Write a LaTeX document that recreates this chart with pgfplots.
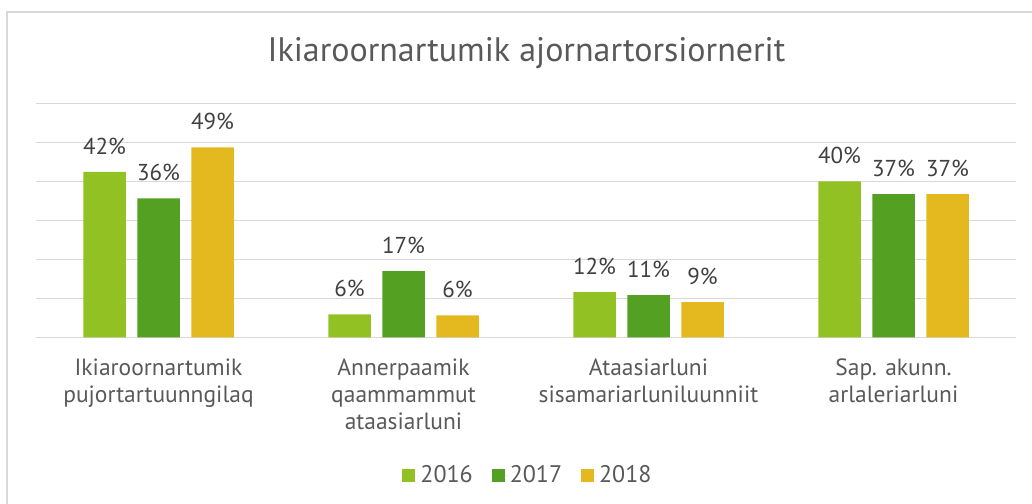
\documentclass[border=0pt]{standalone}
\usepackage{fontspec}
\setmainfont{PT Sans}
\usepackage{pgfplots}
\pgfplotsset{compat=1.18}
\definecolor{lg}{RGB}{146,193,35}
\definecolor{dg}{RGB}{84,160,34}
\definecolor{yl}{RGB}{228,185,32}
\definecolor{gridc}{RGB}{217,217,217}
\definecolor{txt}{RGB}{89,89,89}
\definecolor{lbl}{RGB}{64,64,64}
\begin{document}
\begin{tikzpicture}[x=1pt,y=1pt]
\path[use as bounding box] (-36,-166) rectangle (996,337.3);
\draw[gridc, line width=2pt] (-29.5,-170) -- (-29.5,325.5) -- (1000,325.5);
\node[anchor=base, font=\fontsize{34}{40}\selectfont, text=txt, inner sep=0pt] at (490.5,275.3) {Ikiaroornartumik ajornartorsiornerit};
\begin{axis}[
  at={(0,0)}, anchor=south west,
  scale only axis, width=980pt, height=234pt,
  xmin=-0.5, xmax=3.5, ymin=0, ymax=60,
  enlargelimits=false,
  ybar, bar width=42.5pt,
  axis line style={draw=none},
  major tick length=0pt,
  ytick={0,10,...,60}, yticklabels={},
  ymajorgrids, major grid style={draw=gridc, line width=1.5pt},
  xtick={0,1,2,3},
  xticklabels={{Ikiaroornartumik\\pujortartuunngilaq},{Annerpaamik\\qaammammut\\ataasiarluni},{Ataasiarluni\\sisamariarluniluunniit},{Sap. akunn.\\arlaleriarluni}},
  xticklabel style={align=center, font=\fontsize{23.5}{27}\selectfont, text=txt, inner sep=0pt, yshift=-21pt},
  /pgf/number format/assume math mode=true,
  nodes near coords={\pgfmathprintnumber[fixed,precision=0]{\pgfplotspointmeta}\%},
  every node near coord/.append style={font=\fontsize{23}{27}\selectfont, text=lbl, inner sep=0pt, yshift=17pt},
  legend columns=3,
  legend style={draw=none, fill=none, at={(0.502,-0.589)}, anchor=center, font=\fontsize{24}{28}\selectfont, text=txt, /tikz/every even column/.append style={column sep=17pt}},
  legend image code/.code={\fill[#1,draw=none] (0pt,-6.5pt) rectangle (13pt,6.5pt);\path (0pt,0pt) -- (16pt,0pt);},
]
\addplot[fill=lg, draw=none, bar shift=-54pt] coordinates {(0,42.4) (1,5.9) (2,11.6) (3,40.0)};
\addplot[fill=dg, draw=none, bar shift=0pt] coordinates {(0,35.6) (1,17.0) (2,10.8) (3,36.7)};
\addplot[fill=yl, draw=none, bar shift=54pt] coordinates {(0,48.7) (1,5.6) (2,9.0) (3,36.7)};
\legend{2016,2017,2018}
\end{axis}
\end{tikzpicture}
\end{document}
